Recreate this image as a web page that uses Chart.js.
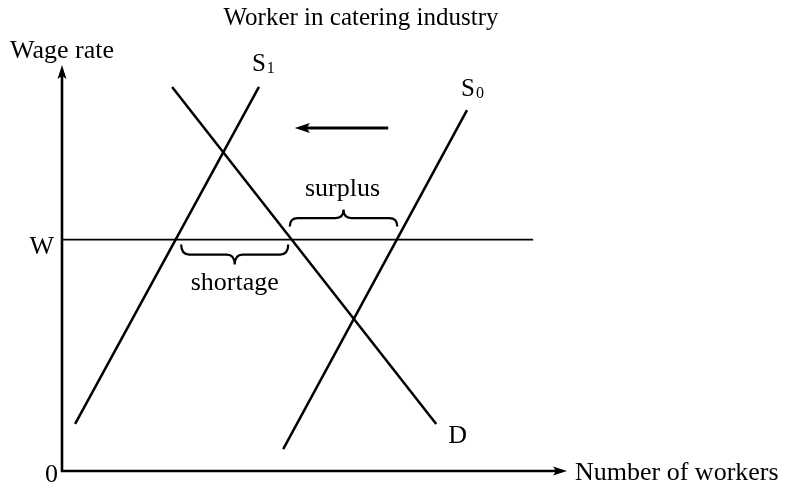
<!DOCTYPE html>
<html><head><meta charset="utf-8">
<script src="https://cdn.jsdelivr.net/npm/chart.js@4/dist/chart.umd.min.js"></script>
<style>html,body{margin:0;padding:0;background:#fff}</style>
</head><body>
<canvas id="c" width="786" height="484"></canvas>
<script>
// ---- data (abstract units: workers 0..100, wage 0..100) ----
const curveNames = ["S1", "D", "S0", "W"];
const supplyS1 = [{x: 2.6, y: 11.6}, {x: 39.0, y: 94.6}];
const demandD  = [{x: 21.8, y: 94.6}, {x: 74.1, y: 11.6}];
const supplyS0 = [{x: 43.8, y: 5.4}, {x: 80.2, y: 88.9}];
const wageLevel = 57;
const wageLine = [{x: 0, y: wageLevel}, {x: 93.3, y: wageLevel}];
const shiftArrow = [{x: 64.6, y: 84.5}, {x: 46.1, y: 84.5}];
const surplusRange = [45.1, 66.4];
const shortageRange = [23.6, 44.8];
const titleText = "Worker in catering industry";
const yAxisLabel = "Wage rate";
const xAxisLabel = "Number of workers";

const FONT = '"Liberation Serif", "Times New Roman", serif';

const lineDs = (data, w) => ({
  data, borderColor: '#000', borderWidth: w, pointRadius: 0, showLine: true,
  fill: false, tension: 0, clip: false
});

const diagramPlugin = {
  id: 'diagram',
  afterDatasetsDraw(chart) {
    const ctx = chart.ctx;
    const xs = chart.scales.x, ys = chart.scales.y;
    const ca = chart.chartArea;
    const X = v => xs.getPixelForValue(v), Y = v => ys.getPixelForValue(v);
    ctx.save();
    ctx.strokeStyle = '#000'; ctx.fillStyle = '#000';
    // axes
    ctx.lineWidth = 2.6; ctx.lineCap = 'butt';
    ctx.beginPath();
    ctx.moveTo(ca.left, ca.top + 8); ctx.lineTo(ca.left, ca.bottom);
    ctx.lineTo(ca.right - 8, ca.bottom);
    ctx.stroke();
    // arrow heads
    ctx.beginPath();
    ctx.moveTo(ca.left, ca.top); ctx.lineTo(ca.left - 4.5, ca.top + 14);
    ctx.lineTo(ca.left, ca.top + 11); ctx.lineTo(ca.left + 4.5, ca.top + 14); ctx.closePath(); ctx.fill();
    ctx.beginPath();
    ctx.moveTo(ca.right, ca.bottom); ctx.lineTo(ca.right - 14, ca.bottom - 4.5);
    ctx.lineTo(ca.right - 11, ca.bottom); ctx.lineTo(ca.right - 14, ca.bottom + 4.5); ctx.closePath(); ctx.fill();

    // shift arrow
    const ax1 = X(shiftArrow[0].x), ay = Y(shiftArrow[0].y), ax2 = X(shiftArrow[1].x);
    ctx.lineWidth = 3;
    ctx.beginPath(); ctx.moveTo(ax1, ay); ctx.lineTo(ax2 + 10, ay); ctx.stroke();
    ctx.beginPath();
    ctx.moveTo(ax2, ay); ctx.lineTo(ax2 + 15, ay - 5); ctx.lineTo(ax2 + 12, ay);
    ctx.lineTo(ax2 + 15, ay + 5); ctx.closePath(); ctx.fill();

    // braces
    function brace(x1, x2, yEnd, yPeak) {
      const xm = (x1 + x2) / 2, yM = (yEnd + yPeak) / 2, r = 8;
      ctx.beginPath();
      ctx.moveTo(x1, yEnd);
      ctx.quadraticCurveTo(x1, yM, x1 + r, yM);
      ctx.lineTo(xm - r, yM);
      ctx.quadraticCurveTo(xm, yM, xm, yPeak);
      ctx.quadraticCurveTo(xm, yM, xm + r, yM);
      ctx.lineTo(x2 - r, yM);
      ctx.quadraticCurveTo(x2, yM, x2, yEnd);
      ctx.stroke();
    }
    ctx.lineWidth = 2.2;
    const wy = Y(wageLevel);
    brace(X(surplusRange[0]), X(surplusRange[1]), wy - 13, wy - 30);
    brace(X(shortageRange[0]), X(shortageRange[1]), wy + 5, wy + 25);

    // texts
    ctx.fillStyle = '#000';
    ctx.textBaseline = 'alphabetic';
    ctx.font = '25px ' + FONT;
    ctx.textAlign = 'center';
    ctx.fillText(titleText, 361, 25);
    ctx.font = '26px ' + FONT;
    ctx.textAlign = 'left';
    ctx.fillText(yAxisLabel, 10, 58);
    ctx.fillText(xAxisLabel, ca.right + 8, ca.bottom + 9);
    ctx.textAlign = 'right';
    ctx.fillText('0', ca.left - 4, ca.bottom + 11);
    ctx.fillText('W', ca.left - 8, wy + 14);
    ctx.textAlign = 'center';
    const sx = (X(surplusRange[0]) + X(surplusRange[1])) / 2;
    ctx.fillText('surplus', sx - 1, wy - 44);
    const shx = (X(shortageRange[0]) + X(shortageRange[1])) / 2;
    ctx.fillText('shortage', shx, wy + 50);
    // curve labels
    ctx.textAlign = 'left';
    function sub(main, s, x, y) {
      ctx.font = '25px ' + FONT; ctx.fillText(main, x, y);
      const w = ctx.measureText(main).width;
      ctx.font = '16px ' + FONT; ctx.fillText(s, x + w + 1, y + 2);
    }
    sub('S', '1', X(supplyS1[1].x) - 7, Y(supplyS1[1].y) - 16);
    sub('S', '0', X(supplyS0[1].x) - 6, Y(supplyS0[1].y) - 14);
    ctx.font = '26px ' + FONT;
    ctx.fillText('D', X(demandD[1].x) + 12, Y(demandD[1].y) + 19);
    ctx.restore();
  }
};

new Chart(document.getElementById('c'), {
  type: 'scatter',
  data: {
    datasets: [
      Object.assign({label: curveNames[0]}, lineDs(supplyS1, 2.5)),
      Object.assign({label: curveNames[1]}, lineDs(demandD, 2.5)),
      Object.assign({label: curveNames[2]}, lineDs(supplyS0, 2.5)),
      Object.assign({label: curveNames[3]}, lineDs(wageLine, 1.7))
    ]
  },
  options: {
    responsive: false, animation: false, devicePixelRatio: 1,
    layout: {padding: {left: 62, right: 219, top: 65, bottom: 13}},
    scales: {
      x: {type: 'linear', min: 0, max: 100, display: false},
      y: {type: 'linear', min: 0, max: 100, display: false}
    },
    plugins: {legend: {display: false}, tooltip: {enabled: false}, title: {display: false}}
  },
  plugins: [diagramPlugin]
});
</script>
</body></html>
